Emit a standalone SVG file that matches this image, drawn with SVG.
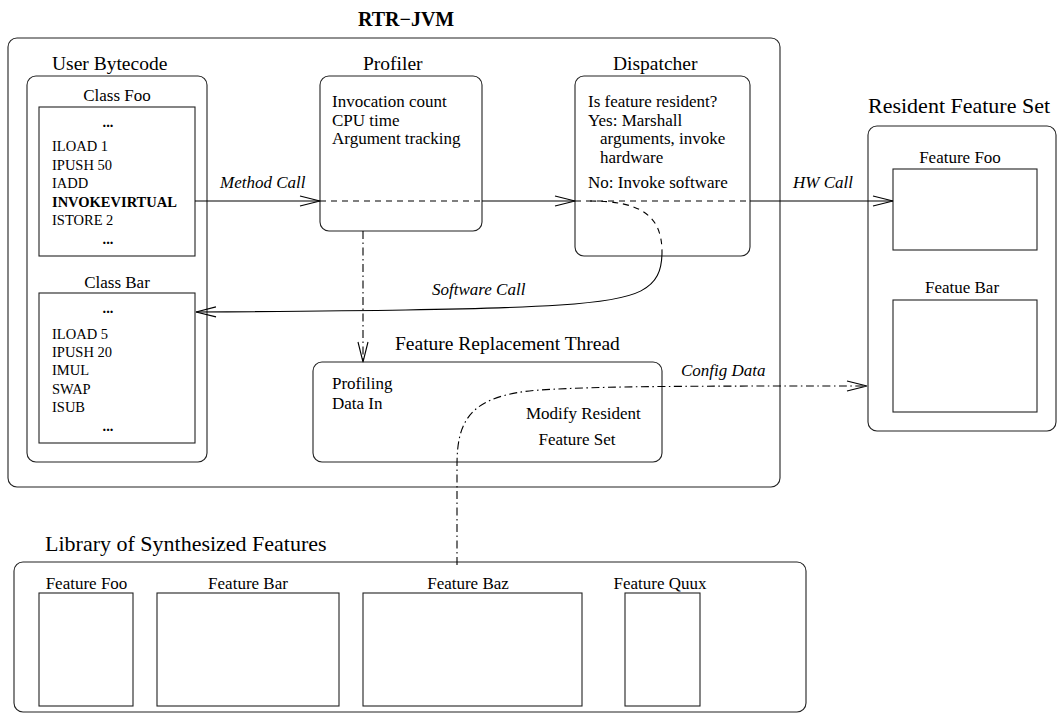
<svg xmlns="http://www.w3.org/2000/svg" width="1057" height="714" viewBox="0 0 1057 714">
<style>
text{font-family:"Liberation Serif","Times New Roman",serif;fill:#000}
.t{font-size:19.5px}
.T{font-size:22px}
.b{font-size:17px}
.c{font-size:14.5px}
.i{font-size:17px;font-style:italic}
.m{text-anchor:middle}
.bx{fill:#fff;stroke:#222;stroke-width:1.1}
.ln{fill:none;stroke:#000;stroke-width:1.1}
.da{stroke-dasharray:6 5}
.dd{stroke-dasharray:8 3.5 1.5 3.5}
</style>
<defs>
<marker id="ah" markerUnits="userSpaceOnUse" markerWidth="24" markerHeight="14" refX="22" refY="7" orient="auto" overflow="visible">
<path d="M2,2 L22,7 L2,12" fill="none" stroke="#000" stroke-width="1.1"/>
</marker>
</defs>
<rect width="1057" height="714" fill="#fff"/>
<g id="rtr-jvm">
<text x="358" y="26" style="font-size:20px;font-weight:bold">RTR−JVM</text>
<rect class="bx" x="8" y="38" width="772" height="449" rx="9"/>
</g>
<g id="user-bytecode">
<text class="t" x="52" y="70">User Bytecode</text>
<rect class="bx" x="27" y="76" width="180" height="386" rx="9"/>
</g>
<g id="class-foo">
<text class="b m" x="117" y="101">Class Foo</text>
<rect class="bx" x="39" y="107" width="156" height="149"/>
<text class="c m" x="108" y="127" font-weight="bold">...</text>
<text class="c" x="52" y="151">ILOAD 1</text>
<text class="c" x="52" y="169.5">IPUSH 50</text>
<text class="c" x="52" y="188">IADD</text>
<text class="c" x="52" y="206.5" font-weight="bold">INVOKEVIRTUAL</text>
<text class="c" x="52" y="225">ISTORE 2</text>
<text class="c m" x="108" y="244" font-weight="bold">...</text>
</g>
<g id="class-bar">
<text class="b m" x="117" y="288">Class Bar</text>
<rect class="bx" x="39" y="293" width="156" height="150"/>
<text class="c m" x="108" y="313" font-weight="bold">...</text>
<text class="c" x="52" y="338.5">ILOAD 5</text>
<text class="c" x="52" y="356.5">IPUSH 20</text>
<text class="c" x="52" y="375">IMUL</text>
<text class="c" x="52" y="393.5">SWAP</text>
<text class="c" x="52" y="412">ISUB</text>
<text class="c m" x="108" y="431" font-weight="bold">...</text>
</g>
<g id="profiler">
<text class="t" x="363" y="70">Profiler</text>
<rect class="bx" x="320" y="76" width="162" height="155" rx="9"/>
<text class="b" x="332" y="107">Invocation count</text>
<text class="b" x="332" y="125.5">CPU time</text>
<text class="b" x="332" y="144">Argument tracking</text>
</g>
<g id="dispatcher">
<text class="t" x="613" y="70">Dispatcher</text>
<rect class="bx" x="575" y="76" width="175" height="180" rx="9"/>
<text class="b" x="588" y="107">Is feature resident?</text>
<text class="b" x="588" y="126">Yes: Marshall</text>
<text class="b" x="600" y="144">arguments, invoke</text>
<text class="b" x="600" y="162.5">hardware</text>
<text class="b" x="588" y="188">No: Invoke software</text>
</g>
<g id="feature-replacement-thread">
<text class="t" x="395" y="350">Feature Replacement Thread</text>
<rect class="bx" x="313" y="362" width="349" height="100" rx="9"/>
<text class="b" x="332" y="389">Profiling</text>
<text class="b" x="332" y="409">Data In</text>
<text class="b" x="526" y="419">Modify Resident</text>
<text class="b m" x="577" y="445">Feature Set</text>
</g>
<g id="resident-feature-set">
<text class="T" x="868" y="113">Resident Feature Set</text>
<rect class="bx" x="868" y="126" width="188" height="305" rx="9"/>
<text class="b m" x="960" y="163">Feature Foo</text>
<rect class="bx" x="893" y="169" width="144" height="81"/>
<text class="b m" x="962" y="293">Featue Bar</text>
<rect class="bx" x="893" y="300" width="144" height="112"/>
</g>
<g id="library">
<text class="T" x="45" y="551">Library of Synthesized Features</text>
<rect class="bx" x="14" y="562" width="792" height="150" rx="9"/>
<text class="b m" x="86.5" y="589">Feature Foo</text>
<rect class="bx" x="39" y="593" width="94" height="113"/>
<text class="b m" x="248" y="589">Feature Bar</text>
<rect class="bx" x="157" y="593" width="182" height="113"/>
<text class="b m" x="468" y="589">Feature Baz</text>
<rect class="bx" x="363" y="593" width="219" height="113"/>
<text class="b m" x="660" y="589">Feature Quux</text>
<rect class="bx" x="625" y="593" width="75" height="113"/>
</g>
<g id="connectors">
<line class="ln" x1="195" y1="201" x2="320" y2="201" marker-end="url(#ah)"/>
<line class="ln da" x1="320" y1="201" x2="482" y2="201"/>
<line class="ln" x1="482" y1="201" x2="575" y2="201" marker-end="url(#ah)"/>
<line class="ln da" x1="575" y1="201" x2="750" y2="201"/>
<line class="ln" x1="750" y1="201" x2="893" y2="201" marker-end="url(#ah)"/>
<path class="ln da" d="M590,201 C640,201 662,215 662,252"/>
<path class="ln" d="M662,252 C662,290 640,300 560,305 C480,310 350,311 196,312" marker-end="url(#ah)"/>
<line class="ln dd" x1="363" y1="231" x2="363" y2="362" marker-end="url(#ah)"/>
<path class="ln dd" d="M457,565 L457,465 C457,420 470,395 540,390 C600,386 700,386 867,386" marker-end="url(#ah)"/>
<text class="i" x="220" y="188">Method Call</text>
<text class="i" x="793" y="188">HW Call</text>
<text class="i" x="432" y="295">Software Call</text>
<text class="i" x="681" y="376">Config Data</text>
</g>
</svg>
